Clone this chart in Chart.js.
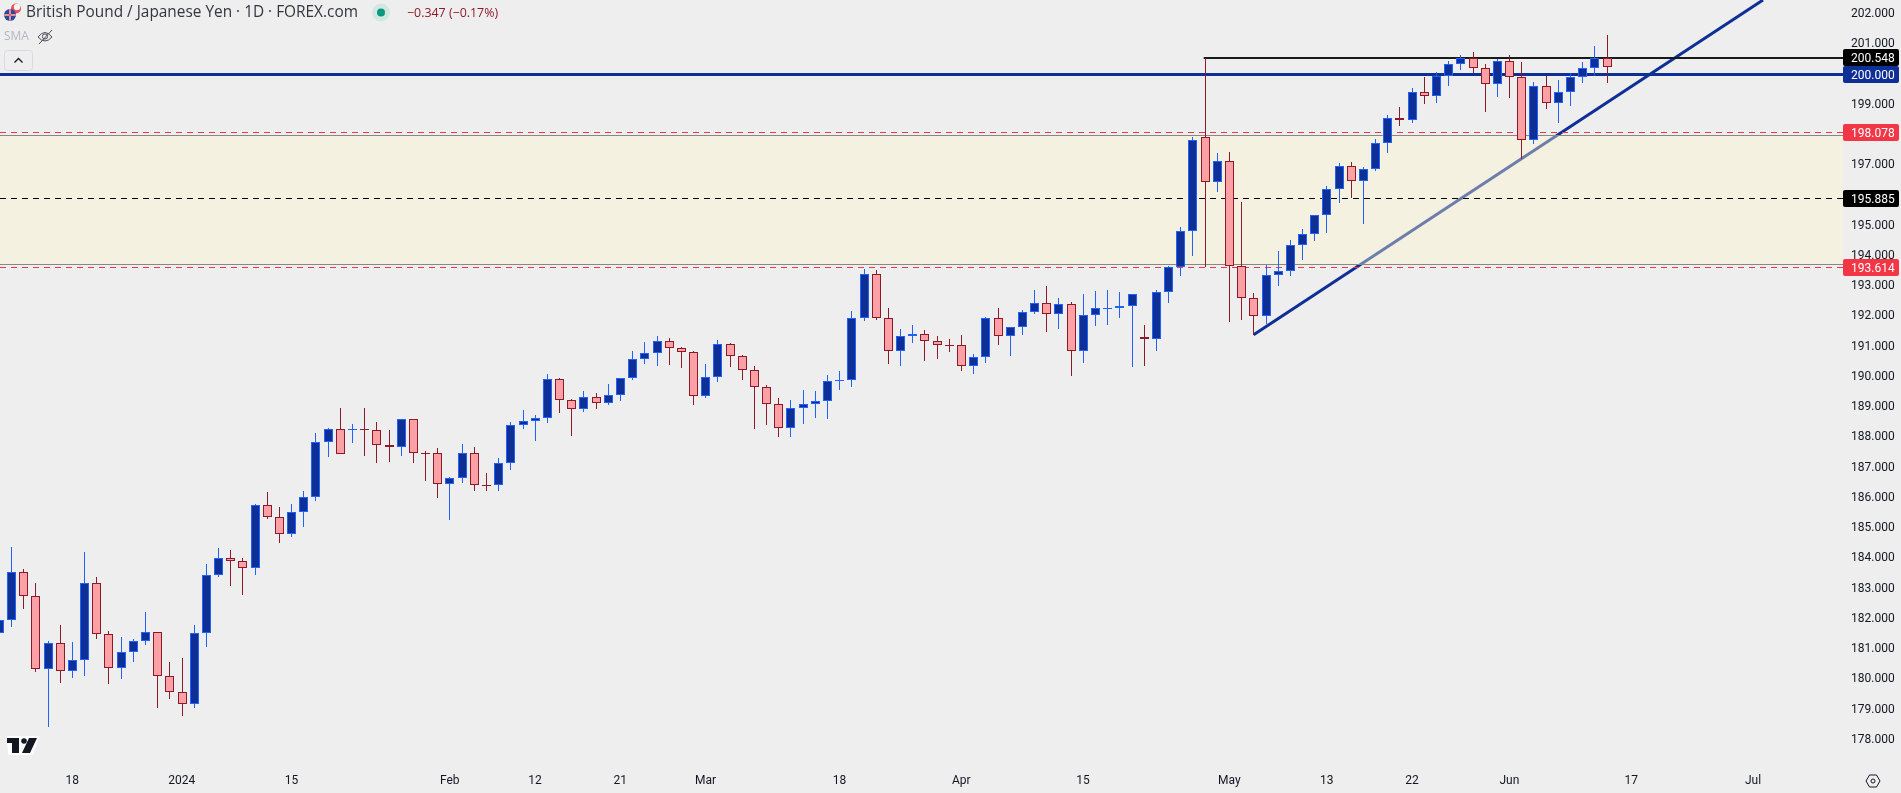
<!DOCTYPE html>
<html>
<head>
<meta charset="utf-8">
<style>html,body{margin:0;padding:0;background:#eeeeee;overflow:hidden}canvas{display:block}</style>
<script src="https://cdn.jsdelivr.net/npm/chart.js@4"></script>
</head>
<body>
<canvas id="c" width="1901" height="793"></canvas>
<script>
const opens=[181.53,181.96,183.54,182.75,180.34,181.20,180.27,180.63,183.18,181.49,180.37,180.90,181.26,181.56,180.10,179.58,179.18,181.53,183.44,184.01,183.91,183.68,185.76,185.36,184.80,185.53,186.02,187.84,188.27,188.24,188.28,188.24,187.74,187.68,188.60,187.49,187.48,186.45,186.65,187.48,186.43,186.42,187.15,188.40,188.53,188.63,189.92,189.23,188.93,189.33,189.13,189.39,189.96,190.58,190.78,191.18,190.95,190.82,189.36,189.99,191.08,190.68,190.22,189.66,189.10,188.30,188.96,189.10,189.20,189.86,189.89,191.94,193.39,191.94,190.85,191.35,191.41,191.18,191.06,191.05,190.35,190.65,191.94,191.34,191.64,192.14,192.44,192.07,192.40,190.85,192.04,192.26,192.27,192.34,191.31,191.25,192.80,193.63,194.82,197.92,196.44,197.13,193.66,192.60,192.01,193.36,193.49,194.35,194.72,195.34,196.20,196.96,196.47,196.87,197.72,198.55,198.49,199.41,199.28,199.94,200.34,200.56,200.20,199.68,200.44,199.91,197.82,199.61,199.05,199.41,199.91,200.20,200.56];
const closes=[181.97,183.54,182.75,180.34,181.20,180.27,180.63,183.18,181.49,180.37,180.90,181.26,181.56,180.10,179.58,179.18,181.53,183.44,184.01,183.91,183.68,185.76,185.36,184.80,185.53,186.02,187.84,188.27,187.44,188.27,188.26,187.74,187.68,188.60,187.48,187.48,186.45,186.65,187.48,186.42,186.41,187.15,188.40,188.53,188.63,189.92,189.23,188.93,189.33,189.13,189.39,189.96,190.58,190.78,191.18,190.95,190.82,189.36,189.99,191.08,190.68,190.22,189.66,189.10,188.30,188.96,189.10,189.20,189.86,189.89,191.94,193.39,191.94,190.85,191.35,191.41,191.18,191.05,191.04,190.35,190.65,191.94,191.34,191.64,192.14,192.44,192.07,192.40,190.85,192.04,192.27,192.28,192.34,192.73,191.25,192.80,193.63,194.82,197.82,196.44,197.13,193.66,192.60,192.01,193.36,193.49,194.35,194.72,195.34,196.20,196.96,196.47,196.87,197.72,198.55,198.49,199.41,199.28,199.94,200.34,200.56,200.20,199.68,200.44,199.91,197.82,199.61,199.05,199.41,199.91,200.20,200.56,200.24];
const highs=[182.0,184.38,183.65,183.19,181.26,181.80,181.24,184.22,183.39,181.60,181.40,181.34,182.23,181.56,180.58,180.71,181.80,183.82,184.35,184.28,184.01,185.79,186.20,185.70,185.80,186.23,188.15,188.31,188.98,188.45,188.98,188.51,188.25,188.60,188.60,187.55,187.65,186.69,187.79,187.69,186.83,187.32,188.51,188.91,188.74,190.10,189.97,189.27,189.54,189.47,189.77,189.96,190.86,191.16,191.36,191.29,190.99,190.86,190.43,191.22,191.12,190.73,190.36,189.74,189.31,189.24,189.57,189.54,190.07,190.20,192.18,193.57,193.54,192.28,191.59,191.72,191.55,191.36,191.26,191.39,190.76,191.98,192.28,191.64,192.21,192.88,193.01,192.61,192.48,192.74,192.84,192.88,192.81,192.73,191.72,192.88,193.67,194.96,197.93,200.55,197.41,197.43,195.79,192.77,193.69,194.17,194.53,194.89,195.34,196.30,197.06,197.10,196.93,197.86,198.65,198.93,199.54,199.91,200.07,200.44,200.63,200.74,200.34,200.50,200.63,200.40,199.74,199.95,199.82,200.04,200.41,200.94,201.31];
const lows=[181.5,181.74,182.33,180.26,178.44,179.90,180.06,180.13,181.35,179.86,180.03,180.59,181.14,179.07,179.37,178.80,179.07,181.09,183.40,183.10,182.80,183.47,185.31,184.52,184.72,185.05,185.91,187.37,187.44,187.83,187.40,187.17,187.20,187.40,187.17,186.57,186.01,185.28,186.51,186.24,186.24,186.24,186.94,188.29,187.90,188.49,188.82,188.06,188.85,188.95,189.09,189.22,189.91,190.44,190.37,190.41,190.31,189.09,189.32,189.85,190.34,189.91,188.29,188.42,188.03,188.03,188.46,188.66,188.62,189.58,189.68,191.86,191.90,190.44,190.37,191.14,190.54,190.61,190.84,190.21,190.11,190.47,191.07,190.71,191.40,192.08,191.50,191.60,190.04,190.47,191.70,191.73,191.96,190.34,190.37,190.87,192.46,193.35,194.01,193.63,196.13,191.83,191.90,191.40,191.74,193.02,193.35,193.87,194.51,194.77,195.76,195.91,195.07,196.82,197.41,198.31,198.41,199.04,199.07,199.63,200.16,200.04,198.77,199.27,199.23,197.21,197.71,198.87,198.41,198.97,199.71,199.95,199.73];

const timeTickIndexes=[6,15,24,37,44,51,58,69,79,89,101,109,116,124,134,144];
const timeTickLabels=['18','2024','15','Feb','12','21','Mar','18','Apr','15','May','13','22','Jun','17','Jul'];
const priceTicks=[178,179,180,181,182,183,184,185,186,187,188,189,190,191,192,193,194,195,196,197,198,199,200,201,202];

const tagValues=[200.548,200,198.078,195.885,193.614];
const tagTexts=['200.548','200.000','198.078','195.885','193.614'];
const tagColors=['#000000','#0d2f96','#f23645','#000000','#f23645'];

const zoneTop=197.984, zoneBottom=193.719;
const trendX=[103,144.82], trendY=[191.40,202.463];
const highLineStart=98.9;

const X_MIN=0.0722, X_MAX=151.39, Y_MIN=177.14, Y_MAX=202.463;
const PANE_W=1843, PANE_H=766;
const BLUE_FILL='#0d2f96', BLUE_LINE='#2162ff', RED_FILL='#fba0a5', RED_LINE='#8c1a2b';
const up=opens.map((o,i)=>closes[i]>=o);
const hLine=(v,x0,extra)=>Object.assign({type:'line',data:[{x:x0,y:v},{x:X_MAX,y:v}],pointRadius:0,pointHitRadius:0,borderWidth:1,tension:0,fill:false},extra);

const snapPlugin={id:'snap',beforeDatasetsDraw(chart){
  chart.data.datasets.forEach((ds,di)=>{
    const meta=chart.getDatasetMeta(di);
    if(ds.type==='bar'){
      meta.data.forEach(el=>{
        el.x=Math.floor(el.x+0.2)+0.5;
        let a=Math.round(el.y),b=Math.round(el.base);
        if(a===b){b=a+1;}
        el.y=Math.min(a,b);el.base=Math.max(a,b);el.height=el.base-el.y;
      });
    }else if(ds.snapY){
      meta.data.forEach(el=>{el.y=Math.floor(el.y)+ds.snapY;});
    }
  });
}};

const overlayPlugin={id:'overlay',afterDraw(chart){
  const ctx=chart.ctx,yS=chart.scales.y;
  ctx.save();
  // price tags
  tagValues.forEach((v,i)=>{
    const yy=yS.getPixelForValue(v);
    ctx.fillStyle=tagColors[i];
    ctx.beginPath();ctx.roundRect(1843,Math.round(yy-8.5),56,17,2);ctx.fill();
    ctx.fillStyle='#ffffff';ctx.font='12px Roboto';ctx.textAlign='left';ctx.textBaseline='middle';
    ctx.fillText(tagTexts[i],1851,Math.round(yy)+0.5);
  });
  // legend header
  ctx.textBaseline='middle';ctx.textAlign='left';
  ctx.font='15.4px "Open Sans"';ctx.fillStyle='#333640';
  ctx.fillText('British Pound / Japanese Yen · 1D · FOREX.com',26,13);
  ctx.font='12.4px "Open Sans"';ctx.fillStyle='#8c1a2b';
  ctx.fillText('−0.347 (−0.17%)',407,13);
  ctx.font='12px "Open Sans"';ctx.fillStyle='#b4b7c0';
  ctx.fillText('SMA',4,37);
  // status dot
  ctx.fillStyle='#d2e7e2';ctx.beginPath();ctx.arc(381,12.5,9,0,7);ctx.fill();
  ctx.fillStyle='#089981';ctx.beginPath();ctx.arc(381,12.5,4,0,7);ctx.fill();
  // flag
  ctx.fillStyle='#ee4a5b';ctx.beginPath();ctx.arc(16,8.5,5,0,7);ctx.fill();
  ctx.fillStyle='#f4f4f4';ctx.beginPath();ctx.arc(17,7,3.2,0,7);ctx.fill();
  ctx.fillStyle='#2b4a9b';ctx.beginPath();ctx.arc(10,15,6,0,7);ctx.fill();
  ctx.strokeStyle='#f0e8e8';ctx.lineWidth=2;ctx.beginPath();ctx.moveTo(4.5,15);ctx.lineTo(15.5,15);ctx.moveTo(10,9.5);ctx.lineTo(10,20.5);ctx.stroke();
  ctx.strokeStyle='#d8394a';ctx.lineWidth=1;ctx.beginPath();ctx.moveTo(4.5,15);ctx.lineTo(15.5,15);ctx.moveTo(10,9.5);ctx.lineTo(10,20.5);ctx.stroke();
  // crossed eye
  ctx.strokeStyle='#4a4d57';ctx.lineWidth=1;
  ctx.beginPath();ctx.moveTo(38,37);ctx.quadraticCurveTo(45,28,52,37);ctx.quadraticCurveTo(45,45,38,37);ctx.stroke();
  ctx.beginPath();ctx.arc(45,36.5,2.6,0,7);ctx.stroke();
  ctx.beginPath();ctx.moveTo(39,44);ctx.lineTo(52,30);ctx.stroke();
  // collapse button
  ctx.strokeStyle='#d9dae0';ctx.beginPath();ctx.roundRect(4.5,50.5,28,20,3);ctx.stroke();
  ctx.strokeStyle='#131722';ctx.lineWidth=1.3;ctx.beginPath();ctx.moveTo(14.5,62.5);ctx.lineTo(18.5,58.5);ctx.lineTo(22.5,62.5);ctx.stroke();
  // logo
  ctx.fillStyle='#ffffff';ctx.beginPath();ctx.moveTo(7,736);ctx.lineTo(39.5,736);ctx.lineTo(33,755);ctx.lineTo(8,755);ctx.closePath();ctx.fill();
  ctx.fillStyle='#131722';
  ctx.fillRect(7,738,12,5);ctx.fillRect(12,738,7,15);
  ctx.beginPath();ctx.arc(24,741,2.8,0,7);ctx.fill();
  ctx.beginPath();ctx.moveTo(29,738);ctx.lineTo(37,738);ctx.lineTo(30,753);ctx.lineTo(22,753);ctx.closePath();ctx.fill();
  // settings
  ctx.strokeStyle='#131722';ctx.lineWidth=1;ctx.beginPath();
  [[1866,781],[1869.5,775],[1876.5,775],[1880,781],[1876.5,787],[1869.5,787]].forEach((p,i)=>i?ctx.lineTo(p[0],p[1]):ctx.moveTo(p[0],p[1]));
  ctx.closePath();ctx.stroke();
  ctx.beginPath();ctx.arc(1873,781,2,0,7);ctx.stroke();
  ctx.restore();
}};

const indexes=opens.map((_,i)=>i);
new Chart(document.getElementById('c'),{
  type:'bar',
  data:{datasets:[
    {type:'bar',order:0,grouped:false,barThickness:9,borderWidth:1,borderSkipped:false,inflateAmount:0,
     data:indexes.map(i=>({x:i,y:[opens[i],closes[i]]})),
     backgroundColor:up.map(u=>u?BLUE_FILL:RED_FILL),borderColor:up.map(u=>u?BLUE_LINE:RED_LINE)},
    {type:'bar',order:1,grouped:false,barThickness:1,borderWidth:0,inflateAmount:0,
     data:indexes.map(i=>({x:i,y:[lows[i],highs[i]]})),
     backgroundColor:up.map(u=>u?BLUE_LINE:RED_LINE)},
    hLine(200,X_MIN,{order:2,borderColor:BLUE_FILL,borderWidth:3,snapY:0.5}),
    hLine(200.548,highLineStart,{order:3,borderColor:'#1a1a1a',borderWidth:2,snapY:0}),
    hLine(198.078,X_MIN,{order:4,borderColor:'#f23645',borderDash:[6,5],snapY:0.5}),
    hLine(193.614,X_MIN,{order:4,borderColor:'#f23645',borderDash:[6,5],snapY:0.5}),
    hLine(195.885,X_MIN,{order:4,borderColor:'#000000',borderDash:[6,5],snapY:0.5}),
    hLine(zoneBottom,X_MIN,{order:5,borderColor:'#878787',snapY:0.5}),
    hLine(zoneTop,X_MIN,{order:6,borderColor:'#878787',snapY:0.5,fill:{value:zoneBottom},backgroundColor:'rgba(253,245,203,0.4)'}),
    {type:'line',order:7,data:trendX.map((x,i)=>({x,y:trendY[i]})),pointRadius:0,borderWidth:3,borderColor:BLUE_FILL,tension:0,fill:false}
  ]},
  options:{
    responsive:false,animation:false,
    layout:{padding:0},
    plugins:{legend:{display:false},tooltip:{enabled:false},title:{display:false}},
    events:[],
    scales:{
      x:{type:'linear',min:X_MIN,max:X_MAX,offset:false,grid:{display:false,drawTicks:false},border:{display:false},
         afterBuildTicks(s){s.ticks=timeTickIndexes.map(v=>({value:v}));},
         afterFit(s){s.height=793-PANE_H;s.paddingLeft=0;s.paddingRight=0;},
         ticks:{autoSkip:false,maxRotation:0,padding:8,color:'#131722',font:{family:'Roboto',size:12},
                callback(v){const k=timeTickIndexes.indexOf(v);return k<0?'':timeTickLabels[k];}}},
      y:{type:'linear',position:'right',min:Y_MIN,max:Y_MAX,grid:{display:false,drawTicks:false},border:{display:false},
         afterBuildTicks(s){s.ticks=priceTicks.map(v=>({value:v}));},
         afterFit(s){s.width=1901-PANE_W;s.paddingTop=0;s.paddingBottom=0;},
         ticks:{autoSkip:false,padding:8,crossAlign:'near',color:'#131722',font:{family:'Roboto',size:12},
                callback(v){return v.toFixed(3);}}}
    }
  },
  plugins:[snapPlugin,overlayPlugin]
});
</script>
</body>
</html>
